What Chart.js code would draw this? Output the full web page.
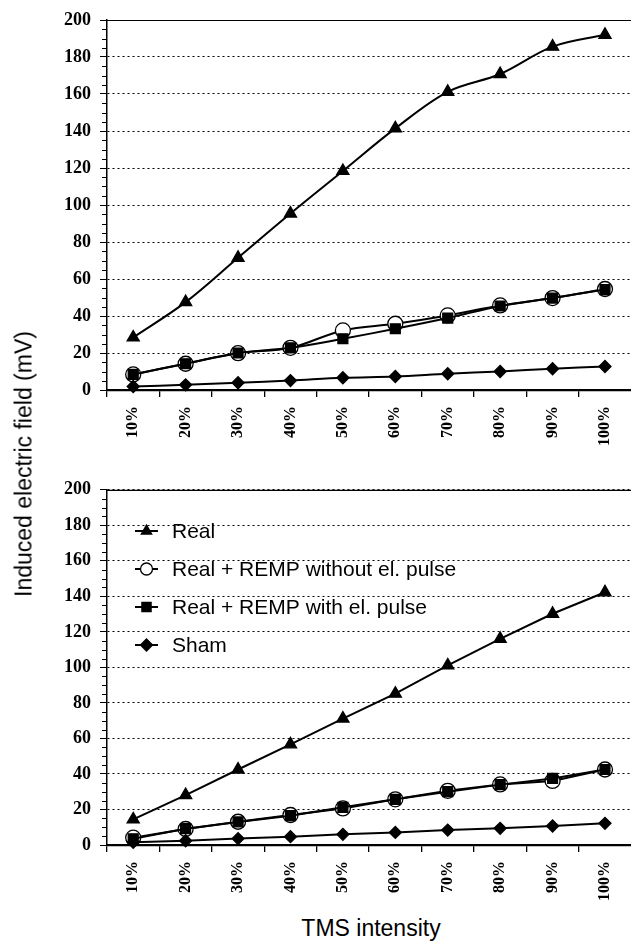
<!DOCTYPE html>
<html lang="en">
<head>
    <meta charset="UTF-8">
    <title>Induced electric field vs TMS intensity</title>
    <script src="https://cdn.jsdelivr.net/npm/chart.js@4.4.1/dist/chart.umd.min.js"></script>
    <style>
        html, body {
            margin: 0;
            padding: 0;
            background: #fff;
            overflow: hidden;
        }
        #wrap {
            position: relative;
            width: 640px;
            height: 941px;
        }
        .panel {
            position: absolute;
            left: 0;
            width: 640px;
        }
        #topPanel { top: 0; height: 460px; }
        #bottomPanel { top: 470px; height: 430px; }
        .axis-title {
            position: absolute;
            font-family: 'Liberation Sans', Arial, sans-serif;
            font-size: 23px;
            color: #000;
            white-space: nowrap;
        }
        #yTitle {
            left: 24px;
            top: 464px;
            transform: translate(-50%, -50%) rotate(-90deg);
        }
        #xTitle {
            left: 371px;
            top: 928px;
            transform: translate(-50%, -50%);
        }
    </style>
</head>
<body>
<div id="wrap">
    <div class="panel" id="topPanel"><canvas id="topChart"></canvas></div>
    <div class="panel" id="bottomPanel"><canvas id="bottomChart"></canvas></div>
    <div class="axis-title" id="yTitle">Induced electric field (mV)</div>
    <div class="axis-title" id="xTitle">TMS intensity</div>
</div>

<script>
    // Data
    const categories = ['10%', '20%', '30%', '40%', '50%', '60%', '70%', '80%', '90%', '100%'];
    const seriesNames = ['Real', 'Real + REMP without el. pulse', 'Real + REMP with el. pulse', 'Sham'];
    const yTicks = [0, 20, 40, 60, 80, 100, 120, 140, 160, 180, 200];

    // top panel
    const topReal    = [28.4, 47.5, 71.5, 95.4, 118.4, 141.4, 161.2, 170.8, 185.6, 192.0];
    const topWithout = [8.4, 14.2, 19.9, 22.8, 32.2, 35.8, 40.3, 45.7, 49.7, 54.6];
    const topWith    = [8.4, 14.2, 20.0, 22.8, 27.7, 33.1, 38.9, 45.4, 49.7, 54.3];
    const topSham    = [1.9, 2.8, 3.9, 5.1, 6.6, 7.3, 8.8, 10.0, 11.5, 12.7];

    // bottom panel
    const botReal    = [14.4, 28.1, 42.5, 56.7, 71.2, 85.2, 101.1, 116.1, 130.2, 142.3];
    const botWithout = [4.1, 9.0, 13.1, 16.9, 20.6, 25.7, 30.5, 34.1, 36.1, 42.5];
    const botWith    = [3.5, 9.2, 13.0, 16.5, 21.2, 25.7, 30.0, 34.0, 37.5, 42.5];
    const botSham    = [1.5, 2.4, 3.6, 4.7, 6.0, 7.1, 8.4, 9.4, 10.7, 12.2];

    // marker styles per series (Real, without, with, Sham)
    const markerStyles = [
        { pointStyle: 'triangle', radius: 7,   bg: '#000', order: 0 },
        { pointStyle: 'circle',   radius: 7.5, bg: '#fff', order: 3 },
        { pointStyle: 'rect',     radius: 7,   bg: '#000', order: 1 },
        { pointStyle: 'rectRot',  radius: 6,   bg: '#000', order: 2 }
    ];

    const serifBold = { family: "'Liberation Serif', 'Times New Roman', serif", weight: 'bold' };

    // minor ticks on y axis + solid top frame line
    const framePlugin = {
        id: 'frame',
        afterDraw(chart) {
            const ctx = chart.ctx;
            const area = chart.chartArea;
            const y = chart.scales.y;
            ctx.save();
            ctx.strokeStyle = '#000';
            ctx.lineWidth = 1;
            for (let v = 5; v < 200; v += 5) {
                if (v % 20 === 0) continue;
                const py = Math.round(y.getPixelForValue(v)) + 0.5;
                ctx.beginPath();
                ctx.moveTo(area.left - 5, py);
                ctx.lineTo(area.left, py);
                ctx.stroke();
            }
            ctx.lineWidth = 1.2;
            ctx.beginPath();
            ctx.moveTo(area.left, area.top + 0.5);
            ctx.lineTo(area.right, area.top + 0.5);
            ctx.stroke();
            ctx.restore();
        }
    };

    function drawMarker(ctx, style, x, y, r, fill) {
        ctx.beginPath();
        if (style === 'triangle') {
            ctx.moveTo(x, y - r);
            ctx.lineTo(x + r * 0.866, y + r * 0.5);
            ctx.lineTo(x - r * 0.866, y + r * 0.5);
            ctx.closePath();
        } else if (style === 'circle') {
            ctx.arc(x, y, r, 0, Math.PI * 2);
        } else if (style === 'rect') {
            const s = r * 0.7071;
            ctx.rect(x - s, y - s, 2 * s, 2 * s);
        } else {
            ctx.moveTo(x, y - r);
            ctx.lineTo(x + r, y);
            ctx.lineTo(x, y + r);
            ctx.lineTo(x - r, y);
            ctx.closePath();
        }
        ctx.fillStyle = fill;
        ctx.fill();
        ctx.stroke();
    }

    // legend drawn inside the plot, line sample + marker
    const legendPlugin = {
        id: 'insideLegend',
        afterDraw(chart) {
            const ctx = chart.ctx;
            const legendSizes = [6, 6, 6.5, 6];
            ctx.save();
            ctx.font = "21px 'Liberation Sans', Arial, sans-serif";
            ctx.textBaseline = 'middle';
            ctx.textAlign = 'left';
            seriesNames.forEach((name, i) => {
                const yy = 61 + i * 38;
                ctx.strokeStyle = '#000';
                ctx.lineWidth = 2;
                ctx.beginPath();
                ctx.moveTo(135, yy);
                ctx.lineTo(158, yy);
                ctx.stroke();
                ctx.lineWidth = 1.3;
                drawMarker(ctx, markerStyles[i].pointStyle, 146.5, yy, legendSizes[i], markerStyles[i].bg);
                ctx.fillStyle = '#000';
                ctx.fillText(name, 172, yy + 1);
            });
            ctx.restore();
        }
    };

    function makeChart(canvasId, values, tension, axisHeight, padTop, extraPlugins) {
        const datasets = values.map((data, i) => ({
            label: seriesNames[i],
            data: data,
            order: markerStyles[i].order,
            borderColor: '#000',
            borderWidth: 2,
            tension: tension,
            fill: false,
            pointStyle: markerStyles[i].pointStyle,
            pointRadius: markerStyles[i].radius,
            pointHoverRadius: markerStyles[i].radius,
            pointBackgroundColor: markerStyles[i].bg,
            pointBorderColor: '#000',
            pointBorderWidth: 1.3
        }));

        return new Chart(document.getElementById(canvasId), {
            type: 'line',
            data: { labels: categories, datasets: datasets },
            options: {
                responsive: true,
                maintainAspectRatio: false,
                animation: false,
                clip: false,
                layout: { padding: { top: padTop, right: 2, left: 0, bottom: 0 } },
                plugins: {
                    legend: { display: false },
                    tooltip: { enabled: false }
                },
                scales: {
                    x: {
                        offset: true,
                        grid: {
                            offset: true,
                            drawOnChartArea: false,
                            drawTicks: true,
                            tickLength: 7,
                            color: '#000',
                            lineWidth: 1.3
                        },
                        border: { display: true, color: '#000', width: 2.2 },
                        ticks: {
                            color: '#000',
                            font: Object.assign({ size: 16 }, serifBold),
                            minRotation: 90,
                            maxRotation: 90,
                            autoSkip: false,
                            padding: 9
                        },
                        afterFit(scale) { scale.height = axisHeight; }
                    },
                    y: {
                        min: 0,
                        max: 200,
                        afterBuildTicks(scale) {
                            scale.ticks = yTicks.map(v => ({ value: v }));
                        },
                        grid: {
                            color: '#000',
                            lineWidth: 1,
                            drawTicks: true,
                            tickLength: 7,
                            tickColor: '#000',
                            tickBorderDash: []
                        },
                        border: { display: true, color: '#000', width: 1.5, dash: [2, 3] },
                        ticks: {
                            color: '#000',
                            font: Object.assign({ size: 18 }, serifBold),
                            padding: 9
                        },
                        afterFit(scale) { scale.width = 107; }
                    }
                }
            },
            plugins: [framePlugin].concat(extraPlugins)
        });
    }

    makeChart('topChart', [topReal, topWithout, topWith, topSham], 0.35, 70, 20, []);
    makeChart('bottomChart', [botReal, botWithout, botWith, botSham], 0, 55, 19, [legendPlugin]);
</script>
</body>
</html>
